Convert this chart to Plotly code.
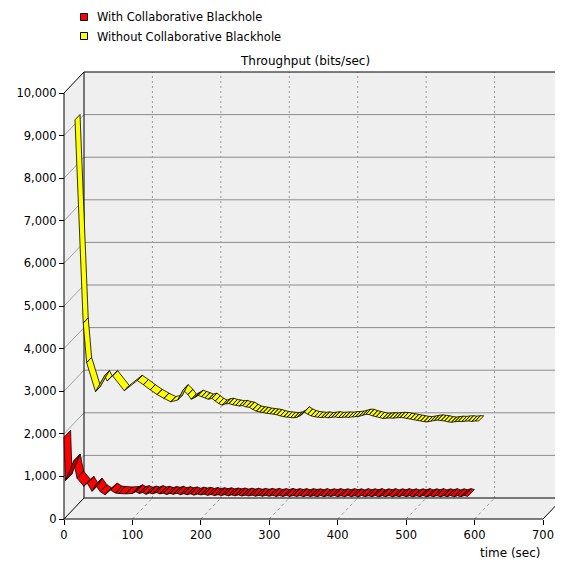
import plotly.graph_objects as go

# ---------------- data ----------------
series_names = ["With Collaborative Blackhole", "Without Collaborative Blackhole"]

time_with = [0, 2, 14, 19, 29, 34, 41, 46, 53, 60, 68, 75, 80, 90,
             100, 105, 110, 115, 120, 125, 130, 135, 140, 145, 150, 155, 160, 165, 170, 175,
             180, 185, 190, 195, 200, 205, 210, 215, 220, 225, 230, 235, 240, 245, 250, 255,
             260, 265, 270, 275, 280, 285, 290, 295, 300, 305, 310, 315, 320, 325, 330, 335,
             340, 345, 350, 355, 360, 365, 370, 375, 380, 385, 390, 395, 400, 405, 410, 415,
             420, 425, 430, 435, 440, 445, 450, 455, 460, 465, 470, 475, 480, 485, 490, 495,
             500, 505, 510, 515, 520, 525, 530, 535, 540, 545, 550, 555, 560, 565, 570, 575,
             580, 585, 590]
thr_with = [1920, 900, 1360, 960, 770, 840, 650, 800, 640, 570, 680, 610, 600, 590,
            600, 640, 600, 620, 580, 610, 590, 620, 590, 605, 575, 600, 580, 605, 570, 595,
            570, 590, 560, 585, 565, 580, 555, 575, 550, 570, 550, 570, 545, 565, 545, 565,
            540, 560, 540, 560, 535, 555, 535, 555, 535, 555, 530, 550, 530, 555, 530, 550,
            530, 550, 525, 550, 530, 545, 525, 550, 525, 545, 530, 550, 525, 545, 525, 550,
            525, 545, 520, 550, 525, 545, 525, 550, 520, 545, 525, 550, 520, 545, 525, 550,
            525, 545, 520, 545, 525, 550, 520, 545, 525, 550, 520, 545, 525, 550, 520, 545,
            525, 550, 530]

time_without = [0, 12, 17, 30, 43, 47, 55, 72, 91, 100, 110, 120, 130, 140, 150, 158,
                165, 170, 175, 180, 185, 190, 195, 200, 205, 210, 215, 220, 225, 230, 235,
                240, 245, 250, 255, 260, 265, 270, 275, 280, 285, 290, 295, 300, 305, 310,
                315, 320, 325, 330, 335, 340, 345, 350, 355, 360, 365, 370, 375, 380, 385,
                390, 395, 400, 405, 410, 415, 420, 425, 430, 435, 440, 445, 450, 455, 460,
                465, 470, 475, 480, 485, 490, 495, 500, 505, 510, 515, 520, 525, 530, 535,
                540, 545, 550, 555, 560, 565, 570, 575, 580, 585, 590]
thr_without = [9100, 4330, 3400, 2720, 3090, 2970, 3090, 2740, 2980, 2880, 2760, 2650, 2560, 2480, 2520, 2760,
               2650, 2540, 2580, 2630, 2600, 2570, 2540, 2560, 2500, 2440, 2400, 2430, 2440, 2410, 2400,
               2380, 2390, 2360, 2350, 2300, 2260, 2240, 2230, 2210, 2200, 2190, 2175, 2150, 2130, 2120,
               2110, 2105, 2120, 2160, 2240, 2190, 2150, 2130, 2120, 2110, 2120, 2105, 2115, 2125, 2110,
               2115, 2120, 2115, 2125, 2130, 2140, 2160, 2185, 2180, 2150, 2130, 2110, 2090, 2095, 2100,
               2095, 2105, 2110, 2105, 2090, 2075, 2060, 2045, 2030, 2015, 2010, 2025, 2040, 2050, 2040,
               2030, 2010, 2000, 2010, 2020, 2015, 2025, 2030, 2020, 2030, 2030]

x_ticks = [0, 100, 200, 300, 400, 500, 600, 700]
y_ticks = [0, 1000, 2000, 3000, 4000, 5000, 6000, 7000, 8000, 9000, 10000]
chart_title = "Throughput (bits/sec)"
x_title = "time (sec)"

# ---------------- layout geometry (reference pixels) ----------------
PAGE_W, PAGE_H = 563, 562
OFF = 8                          # default body margin of the page
W, H = PAGE_W - OFF, PAGE_H - OFF
X_MAX, Y_MAX = 700, 10000


def rx(px):
    return px - OFF


def ry(py):
    return py - OFF


ORIGIN_PX = (rx(64), ry(519))   # pixel of data (0,0) on the front plane
X_LEN_PX, Y_LEN_PX = 479, 426    # front plane size in pixels
DEPTH_PX = (20, 21)              # oblique depth offset in pixels
ML, MR, MT, MB = rx(60), 0, ry(68), H - ry(524)

kx = X_LEN_PX / X_MAX
ky = Y_LEN_PX / Y_MAX
DX = DEPTH_PX[0] / kx
DY = DEPTH_PX[1] / ky
plot_w = W - ML - MR
plot_h = H - MT - MB
xmin = -(ORIGIN_PX[0] - ML) / kx
xmax = xmin + plot_w / kx
ymin = -((H - MB) - ORIGIN_PX[1]) / ky
ymax = ymin + plot_h / ky


def paper_x(px_ref):
    return (rx(px_ref) - ML) / plot_w


def paper_y(py_ref):
    return ((H - MB) - ry(py_ref)) / plot_h


def proj(x, y, z):
    return x + z * DX, y + z * DY


FONT = "DejaVu Sans"
WALL = "#EFEFEF"
GRID = "#8C8C8C"

fig = go.Figure()


def add_ribbon(ts, vs, z0, z1, color, dark, name):
    groups = {True: ([], []), False: ([], [])}
    for i in range(len(ts) - 1):
        dx = ts[i + 1] - ts[i]
        dy = vs[i + 1] - vs[i]
        top = (dx * DY - dy * DX) >= 0
        pts = [proj(ts[i], vs[i], z0), proj(ts[i + 1], vs[i + 1], z0),
               proj(ts[i + 1], vs[i + 1], z1), proj(ts[i], vs[i], z1),
               proj(ts[i], vs[i], z0)]
        gx, gy = groups[top]
        for p in pts:
            gx.append(p[0])
            gy.append(p[1])
        gx.append(None)
        gy.append(None)
    for top, (gx, gy) in groups.items():
        if not gx:
            continue
        fig.add_trace(go.Scatter(
            x=gx, y=gy, mode="lines", fill="toself", name=name,
            fillcolor=color if top else dark,
            line=dict(color="black", width=0.8),
            hoverinfo="skip", showlegend=False))


# back series first (yellow), front series last (red)
add_ribbon(time_without, thr_without, 0.55, 0.80, "#FFFF00", "#B5B500", series_names[1])
add_ribbon(time_with, thr_with, 0.0, 0.33, "#FF0000", "#B00000", series_names[0])

shapes = []
# walls
shapes.append(dict(type="rect", x0=DX, y0=DY, x1=X_MAX + DX, y1=Y_MAX + DY,
                   fillcolor=WALL, line=dict(width=0), layer="below"))
shapes.append(dict(type="path",
                   path=f"M 0,0 L {DX},{DY} L {DX},{Y_MAX + DY} L 0,{Y_MAX} Z",
                   fillcolor=WALL, line=dict(width=0), layer="below"))
shapes.append(dict(type="path",
                   path=f"M 0,0 L {X_MAX},0 L {X_MAX + DX},{DY} L {DX},{DY} Z",
                   fillcolor=WALL, line=dict(width=0), layer="below"))
# grid on back wall, left wall and floor
for v in y_ticks[1:-1]:
    shapes.append(dict(type="line", x0=DX, y0=v + DY, x1=X_MAX + DX, y1=v + DY,
                       line=dict(color=GRID, width=1), layer="below"))
    shapes.append(dict(type="line", x0=0, y0=v, x1=DX, y1=v + DY,
                       line=dict(color="#A0A0A0", width=1), layer="below"))
for t in x_ticks[1:-1]:
    shapes.append(dict(type="line", x0=t + DX, y0=DY, x1=t + DX, y1=Y_MAX + DY,
                       line=dict(color="#9A9A9A", width=1, dash="2px,3px"), layer="below"))
    shapes.append(dict(type="line", x0=t, y0=0, x1=t + DX, y1=DY,
                       line=dict(color="#9A9A9A", width=1, dash="3px,3px"), layer="below"))
# black edges
edges = [
    (0, 0, 0, Y_MAX), (0, 0, X_MAX, 0), (0, 0, DX, DY), (0, Y_MAX, DX, Y_MAX + DY),
    (X_MAX, 0, X_MAX + DX, DY), (DX, DY, DX, Y_MAX + DY), (DX, DY, X_MAX + DX, DY),
    (DX, Y_MAX + DY, X_MAX + DX, Y_MAX + DY),
]
for x0, y0, x1, y1 in edges:
    shapes.append(dict(type="line", x0=x0, y0=y0, x1=x1, y1=y1,
                       line=dict(color="black", width=1), layer="below"))

# legend (drawn as squares + text, like the reference)
legend_colors = ["#FF0000", "#FFFF00"]
legend_rows_y = [17, 36]
for c, yy in zip(legend_colors, legend_rows_y):
    shapes.append(dict(type="rect", xref="paper", yref="paper",
                       x0=paper_x(80.5), x1=paper_x(87.5), y0=paper_y(yy + 3.5), y1=paper_y(yy - 3.5),
                       fillcolor=c, line=dict(color="black", width=1)))

annotations = [
    dict(text=chart_title, xref="paper", yref="paper", x=paper_x(305), y=paper_y(61),
         xanchor="center", yanchor="middle", showarrow=False,
         font=dict(family=FONT, size=12, color="black")),
    dict(text=x_title, xref="x", yref="paper", x=X_MAX, y=paper_y(553),
         xanchor="right", yanchor="middle", showarrow=False,
         font=dict(family=FONT, size=12, color="black")),
]
for nm, yy in zip(series_names, legend_rows_y):
    annotations.append(dict(text=nm, xref="paper", yref="paper", x=paper_x(95), y=paper_y(yy + 0.5),
                            xanchor="left", yanchor="middle", showarrow=False,
                            font=dict(family=FONT, size=11.5, color="black")))

fig.update_layout(
    width=W, height=H,
    margin=dict(l=ML, r=MR, t=MT, b=MB, pad=0),
    paper_bgcolor="white", plot_bgcolor="white",
    shapes=shapes, annotations=annotations,
    font=dict(family=FONT, size=11.5, color="black"),
    showlegend=False,
    xaxis=dict(range=[xmin, xmax], anchor="free", position=((H - MB) - ORIGIN_PX[1]) / plot_h,
               tickmode="array", tickvals=x_ticks, ticktext=[str(t) for t in x_ticks],
               ticks="outside", ticklen=5, tickcolor="black", showgrid=False,
               zeroline=False, showline=False, fixedrange=True),
    yaxis=dict(range=[ymin, ymax], anchor="free", position=(ORIGIN_PX[0] - ML) / plot_w,
               tickmode="array", tickvals=y_ticks, ticktext=[f"{v:,}" for v in y_ticks],
               ticks="outside", ticklen=5, tickcolor="black", showgrid=False,
               zeroline=False, showline=False, fixedrange=True),
)

fig.write_html("out.html")
